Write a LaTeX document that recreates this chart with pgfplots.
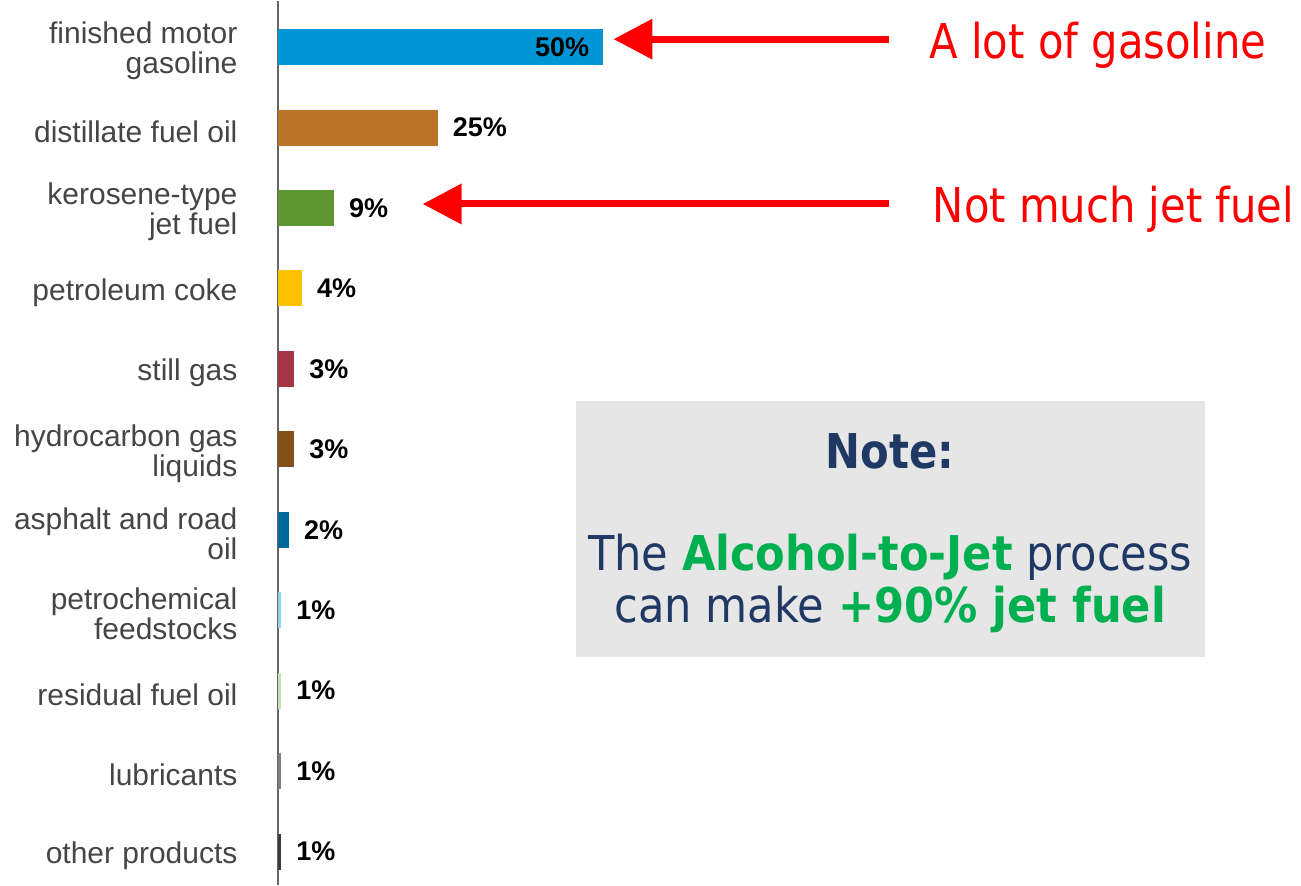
\documentclass[border=0pt]{standalone}
\usepackage{pgfplots}
\pgfplotsset{compat=1.18}
\usepackage{fontspec}
\setmainfont{Liberation Sans}
\newfontfamily\tah[FakeStretch=0.87]{DejaVu Sans}
\newfontfamily\tahn[FakeStretch=0.9]{DejaVu Sans}
\usetikzlibrary{arrows.meta}
\definecolor{c1}{HTML}{0096D6}
\definecolor{c2}{HTML}{BD722A}
\definecolor{c3}{HTML}{5E9732}
\definecolor{c4}{HTML}{FFC000}
\definecolor{c5}{HTML}{A33645}
\definecolor{c6}{HTML}{845019}
\definecolor{c7}{HTML}{00689B}
\definecolor{c8}{HTML}{8ED3F2}
\definecolor{c9}{HTML}{C4DFB0}
\definecolor{c10}{HTML}{7F7F7F}
\definecolor{c11}{HTML}{3A3A3A}
\definecolor{labgray}{HTML}{454545}
\definecolor{navy}{HTML}{1F3864}
\definecolor{okgreen}{HTML}{00B050}
\definecolor{boxgray}{HTML}{E6E6E6}
\begin{document}
\begin{tikzpicture}
\begin{axis}[
  scale only axis,
  width=511.5pt, height=442pt,
  xmin=0, xmax=157.4,
  ymin=-0.571, ymax=10.41,
  y dir=reverse,
  axis x line=none,
  axis y line*=left,
  y axis line style={draw=black!60, line width=1.2pt},
  xtick=\empty,
  ytick={0,1,2,3,4,5,6,7,8,9,10},
  yticklabels={{finished motor\\gasoline},{distillate fuel oil},{kerosene-type\\jet fuel},{petroleum coke},{still gas},{hydrocarbon gas\\liquids},{asphalt and road\\oil},{petrochemical\\feedstocks},{residual fuel oil},{lubricants},{other products}},
  yticklabel style={font=\fontsize{15}{15}\selectfont, text=labgray, align=right, anchor=east, inner sep=0pt, xshift=-20pt, yshift=-2pt},
  major tick length=0pt,
  xbar, bar shift=0pt, bar width=18pt,
  point meta=explicit symbolic,
  nodes near coords,
  nodes near coords style={font=\fontsize{13.5}{14}\selectfont\bfseries, text=black, anchor=west, inner sep=0pt, xshift=7.5pt},
  clip=false,
]
\addplot[fill=c1, draw=none, nodes near coords style={anchor=east, xshift=-14pt}] coordinates {(50,0) [50\%]};
\addplot[fill=c2, draw=none] coordinates {(24.6,1) [25\%]};
\addplot[fill=c3, draw=none] coordinates {(8.6,2) [9\%]};
\addplot[fill=c4, draw=none] coordinates {(3.7,3) [4\%]};
\addplot[fill=c5, draw=none] coordinates {(2.5,4) [3\%]};
\addplot[fill=c6, draw=none] coordinates {(2.5,5) [3\%]};
\addplot[fill=c7, draw=none] coordinates {(1.7,6) [2\%]};
\addplot[fill=c8, draw=none] coordinates {(0.5,7) [1\%]};
\addplot[fill=c9, draw=none] coordinates {(0.5,8) [1\%]};
\addplot[fill=c10, draw=none] coordinates {(0.5,9) [1\%]};
\addplot[fill=c11, draw=none] coordinates {(0.5,10) [1\%]};

% annotations
\draw[red, line width=3.5pt, -{Triangle[length=19.5pt,width=19.5pt]}] (axis cs:94.15,-0.099) -- (axis cs:51.69,-0.099);
\draw[red, line width=3.5pt, -{Triangle[length=19.5pt,width=19.5pt]}] (axis cs:94.15,1.950) -- (axis cs:22.31,1.950);
\node[anchor=base west, inner sep=0pt, text=red, font=\tah\fontsize{24}{26}\selectfont] at (axis cs:100.3,0.137) {A lot of gasoline};
\node[anchor=base west, inner sep=0pt, text=red, font=\tah\fontsize{24}{26}\selectfont] at (axis cs:100.8,2.186) {Not much jet fuel};
\fill[boxgray] (axis cs:45.85,4.398) rectangle (axis cs:142.8,7.578);
\node[anchor=base, inner sep=0pt, text=navy, font=\tah\fontsize{24}{26}\selectfont\bfseries] at (axis cs:94.3,5.242) {Note:};
\node[anchor=base, inner sep=0pt, text=navy, font=\tahn\fontsize{24}{26}\selectfont] at (axis cs:94.3,6.509) {The \textcolor{okgreen}{\bfseries Alcohol-to-Jet} process};
\node[anchor=base, inner sep=0pt, text=navy, font=\tahn\fontsize{24}{26}\selectfont] at (axis cs:94.3,7.155) {can make \textcolor{okgreen}{\bfseries +90\% jet fuel}};
\end{axis}
\path ([xshift=-139pt]current axis.south west) rectangle ([xshift=0.5pt]current axis.north east);
\end{tikzpicture}
\end{document}
